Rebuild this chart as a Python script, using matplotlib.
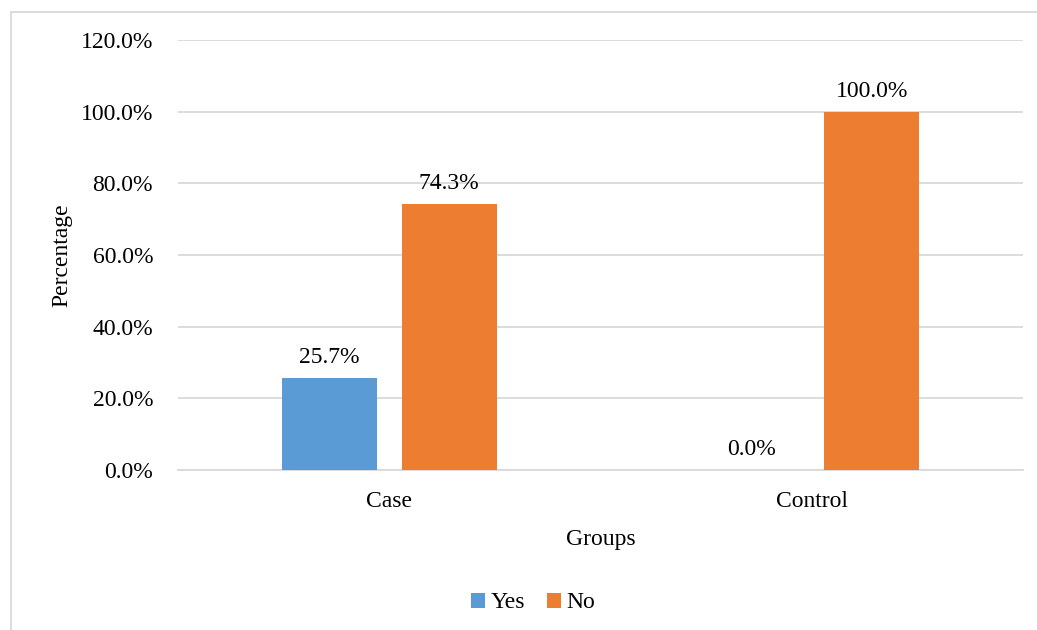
import matplotlib.pyplot as plt
import numpy as np
from matplotlib.patches import Rectangle

plt.rcParams['font.family'] = ['Liberation Serif', 'DejaVu Serif']

# data
groups = ['Case', 'Control']
yes_pct = [25.7, 0.0]
no_pct = [74.3, 100.0]
yticks = [0, 20, 40, 60, 80, 100, 120]

blue = '#5B9BD5'
orange = '#ED7D31'
grid_c = '#D9D9D9'

fig = plt.figure(figsize=(10.37, 6.30), dpi=100)
ax = fig.add_axes([178/1037, 1-470/630, (1023-178)/1037, (470-40)/630])

x = np.arange(len(groups))
w = 0.225
off = 0.142
b1 = ax.bar(x - off, yes_pct, w, color=blue, label='Yes', zorder=3)
b2 = ax.bar(x + off, no_pct, w, color=orange, label='No', zorder=3)

# value labels above bars
for bars in (b1, b2):
    for r in bars:
        h = r.get_height()
        ax.annotate(f'{h:.1f}%', (r.get_x() + r.get_width()/2, h),
                    xytext=(0, 7), textcoords='offset points',
                    ha='center', va='bottom', fontsize=17)

ax.set_xlim(-0.5, 1.5)
ax.set_ylim(0, 120)
ax.set_yticks(yticks)
ax.set_yticklabels([f'{t:.1f}%' for t in yticks], fontsize=17)
ax.set_xticks(x)
ax.set_xticklabels(groups, fontsize=17)
ax.tick_params(axis='y', length=0, pad=18)
ax.tick_params(axis='x', length=0, pad=15)
ax.yaxis.grid(True, color=grid_c, linewidth=1.3, zorder=0)
for s in ['top', 'right', 'left']:
    ax.spines[s].set_visible(False)
ax.spines['bottom'].set_color(grid_c)
ax.spines['bottom'].set_linewidth(1.3)

ax.set_xlabel('Groups', fontsize=17, labelpad=12)
ax.set_ylabel('Percentage', fontsize=17, labelpad=6)

ax.legend(loc='center', bbox_to_anchor=(533/1037, 1-603/630),
          bbox_transform=fig.transFigure, ncol=2, frameon=False,
          fontsize=17, handlelength=0.6, handleheight=0.6,
          handletextpad=0.25, columnspacing=0.9)

# outer chart frame
fig.patches.append(Rectangle((11/1037, -0.1), 1.2, 1-12/630+0.1,
                             transform=fig.transFigure, fill=False,
                             edgecolor=grid_c, linewidth=1.3))

fig.savefig('out.png', dpi=100)
